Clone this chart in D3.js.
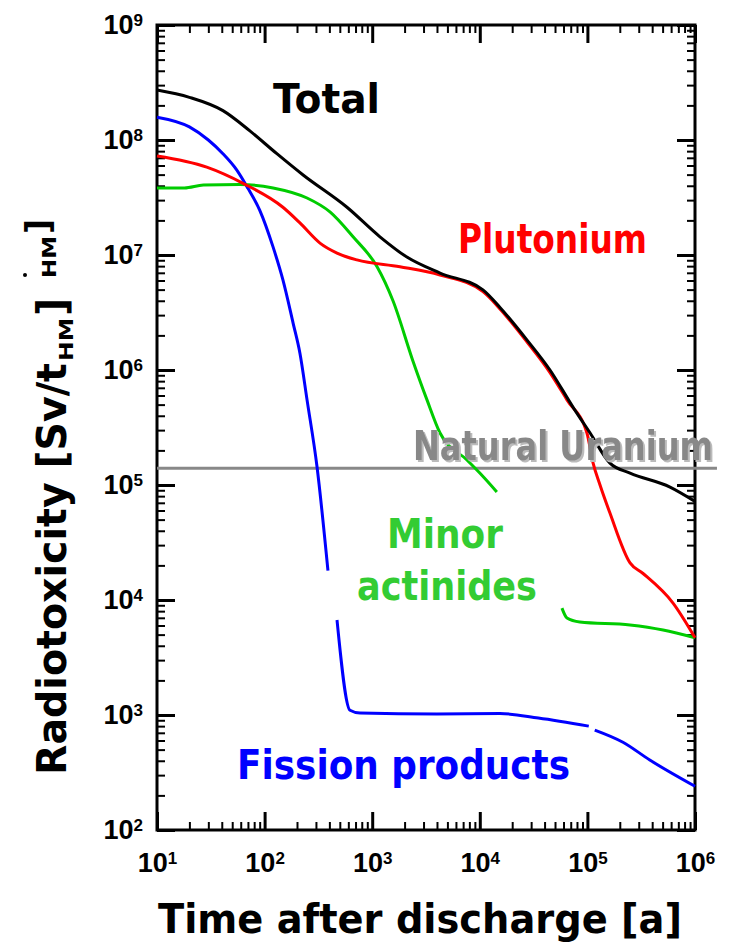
<!DOCTYPE html>
<html>
<head>
<meta charset="utf-8">
<script src="https://cdn.jsdelivr.net/npm/d3@7"></script>
<style>
body { margin: 0; background: #fff; }
svg text { font-family: "DejaVu Sans", sans-serif; font-weight: bold; }
.tick text { font-family: "Liberation Sans", Arial, sans-serif; font-size: 27px; fill: #000; }
</style>
</head>
<body>
<div id="chart"></div>
<script>
// radiotoxicity of spent fuel [Sv/tHM] vs time after discharge [a]
// null marks a break in a curve
var totalYears = [10, 20, 41, 73, 130, 228, 583, 1180, 2100, 4270, 10700, 15400, 27500, 44900, 73400, 106000, 162000, 249000, 586000, 1000000]
var totalTox = [2.72e8, 2.35e8, 1.8e8, 1.2e8, 7.6e7, 4.96e7, 2.6e7, 1.44e7, 9.6e6, 6.97e6, 4.97e6, 3.5e6, 1.82e6, 1.0e6, 4.76e5, 2.83e5, 1.55e5, 1.27e5, 9.6e4, 7.2e4]

var plutoniumYears = [10, 29, 63, 148, 213, 327, 471, 722, 1810, 4270, 10700, 15400, 27500, 44900, 64600, 99000, 113000, 131000, 162000, 249000, 329000, 625000, 1000000]
var plutoniumTox = [7.26e7, 5.8e7, 4.2e7, 2.6e7, 1.9e7, 1.27e7, 1.04e7, 9.06e6, 7.9e6, 6.7e6, 4.8e6, 3.4e6, 1.75e6, 9.5e5, 5.5e5, 2.83e5, 1.55e5, 1.0e5, 5.7e4, 2.1e4, 1.7e4, 9.4e3, 4.7e3]

var actinideYears = [10, 18, 27, 59, 120, 248, 405, 664, 1110, 1560, 2390, 3230, 4270, 7600, 10000, 14400, 30000, 58000, 64600, 85000, 249000, 505000, 1000000]
var actinideTox = [3.83e7, 3.83e7, 4.06e7, 4.1e7, 3.83e7, 3.13e7, 2.37e7, 1.44e7, 7.9e6, 4.0e6, 1.2e6, 5.5e5, 2.83e5, 1.65e5, 1.27e5, 8.7e4, null, 8.5e3, 6.97e3, 6.44e3, 6.07e3, 5.49e3, 4.7e3]

var fissionYears = [10, 20, 30, 41, 55, 70, 90, 120, 148, 184, 213, 248, 307, 388, 430, 471, 622, 771, 4000, 15400, 35000, 103000, 110000, 117000, 214000, 380000, 1000000]
var fissionTox = [1.58e8, 1.3e8, 1.0e8, 7.6e7, 5.5e7, 3.8e7, 2.46e7, 1.17e7, 6.07e6, 2.56e6, 1.4e6, 5.5e5, 1.44e5, 1.8e4, null, 6.7e3, 1.1e3, 1.04e3, 1.02e3, 1.03e3, 9.4e2, 8.0e2, null, 7.4e2, 5.8e2, 4.06e2, 2.4e2]

var naturalUranium = 1.4e5
var naturalUraniumSpan = [10, 1.6e6]

var xDecades = [1e1, 1e2, 1e3, 1e4, 1e5, 1e6]
var yDecades = [1e2, 1e3, 1e4, 1e5, 1e6, 1e7, 1e8, 1e9]

var width = 730,
    height = 951,
    plot = {left: 157, right: 695, top: 25, bottom: 830}

var colors = {
    total: '#000000',
    plutonium: '#ff0000',
    actinides: '#00cc00',
    fission: '#0000ff',
    uranium: '#888888',
    actinidesText: '#33cc33'
}

var x = d3.scaleLog().domain([1e1, 1e6]).range([plot.left, plot.right])
var y = d3.scaleLog().domain([1e2, 1e9]).range([plot.bottom, plot.top])

function minorTicks(decades) {
    var out = []
    decades.slice(0, -1).forEach(function(d) {
        for (var k = 2; k <= 9; k++) out.push(d * k)
    })
    return out
}

var svg = d3.select('#chart').append('svg')
    .attr('width', width)
    .attr('height', height)

var defs = svg.append('defs')
var shadow = defs.append('filter').attr('id', 'shadow')
    .attr('x', '-5%').attr('y', '-20%').attr('width', '110%').attr('height', '140%')
shadow.append('feDropShadow')
    .attr('dx', 2).attr('dy', 2).attr('stdDeviation', 0.6)
    .attr('flood-color', '#bbbbbb').attr('flood-opacity', 1)

// axes: major and minor ticks pointing inward on all four sides
function drawAxis(axisFn, scale, decades, transform, labels) {
    var major = svg.append('g').attr('transform', transform)
        .call(axisFn(scale).tickValues(decades).tickSize(-18).tickSizeOuter(0)
            .tickPadding(labels ? (axisFn === d3.axisLeft ? 14 : 23) : 0)
            .tickFormat(function() { return '' }))
    major.select('.domain').remove()
    major.selectAll('.tick line').attr('stroke-width', 3)
    if (labels) {
        major.selectAll('.tick text').each(function(d) {
            var t = d3.select(this)
            t.append('tspan').text('10')
            t.append('tspan').attr('dy', '-0.5em').style('font-size', '17px')
                .text(Math.round(Math.log10(d)))
        })
    } else {
        major.selectAll('.tick text').remove()
    }
    var minor = svg.append('g').attr('transform', transform)
        .call(axisFn(scale).tickValues(minorTicks(decades)).tickSize(-8).tickSizeOuter(0)
            .tickFormat(function() { return '' }))
    minor.select('.domain').remove()
    minor.selectAll('.tick text').remove()
    minor.selectAll('.tick line').attr('stroke-width', 2)
}

drawAxis(d3.axisBottom, x, xDecades, 'translate(0,' + plot.bottom + ')', true)
drawAxis(d3.axisTop, x, xDecades, 'translate(0,' + plot.top + ')', false)
drawAxis(d3.axisLeft, y, yDecades, 'translate(' + plot.left + ',0)', true)
drawAxis(d3.axisRight, y, yDecades, 'translate(' + plot.right + ',0)', false)

svg.append('rect')
    .attr('x', plot.left).attr('y', plot.top)
    .attr('width', plot.right - plot.left).attr('height', plot.bottom - plot.top)
    .attr('fill', 'none').attr('stroke', '#000').attr('stroke-width', 3)

// natural uranium reference
svg.append('line')
    .attr('x1', x(naturalUraniumSpan[0])).attr('x2', x(naturalUraniumSpan[1]))
    .attr('y1', y(naturalUranium)).attr('y2', y(naturalUranium))
    .attr('stroke', colors.uranium).attr('stroke-width', 3)

var line = d3.line()
    .defined(function(d) { return d[1] != null })
    .x(function(d) { return x(d[0]) })
    .y(function(d) { return y(d[1]) })
    .curve(d3.curveMonotoneX)

var series = [
    {years: fissionYears, tox: fissionTox, color: colors.fission},
    {years: actinideYears, tox: actinideTox, color: colors.actinides},
    {years: plutoniumYears, tox: plutoniumTox, color: colors.plutonium},
    {years: totalYears, tox: totalTox, color: colors.total}
]

svg.selectAll('path.series')
    .data(series)
    .enter().append('path')
    .attr('class', 'series')
    .attr('d', function(s) { return line(s.years.map(function(t, i) { return [t, s.tox[i]] })) })
    .attr('fill', 'none')
    .attr('stroke', function(s) { return s.color })
    .attr('stroke-width', 3)
    .attr('stroke-linejoin', 'round')

// labels
function label(txt, px, py, len, color, size) {
    return svg.append('text')
        .attr('x', px).attr('y', py)
        .attr('textLength', len).attr('lengthAdjust', 'spacingAndGlyphs')
        .attr('fill', color)
        .style('font-size', (size || 40) + 'px')
        .text(txt)
}

label('Total', 273, 113, 107, colors.total)
label('Plutonium', 458, 253, 189, colors.plutonium)
label('Natural Uranium', 413, 460, 300, colors.uranium).attr('filter', 'url(#shadow)')
label('Minor', 387, 548, 116, colors.actinidesText)
label('actinides', 357, 600, 180, colors.actinidesText)
label('Fission products', 237, 779, 333, colors.fission)

// axis titles
label('Time after discharge [a]', 158, 933, 524, '#000')

svg.append('text')
    .attr('transform', 'translate(66,775) rotate(-90)')
    .attr('textLength', 412).attr('lengthAdjust', 'spacingAndGlyphs')
    .style('font-size', '40px')
    .text('Radiotoxicity [Sv/t')
svg.append('text')
    .attr('transform', 'translate(73,361) rotate(-90)')
    .attr('textLength', 43).attr('lengthAdjust', 'spacingAndGlyphs')
    .style('font-size', '20px')
    .text('HM')
svg.append('text')
    .attr('transform', 'translate(66,316) rotate(-90)')
    .style('font-size', '40px')
    .text(']')
// stray glyphs at the top of the original y title
svg.append('text')
    .attr('transform', 'translate(56,278) rotate(-90)')
    .attr('textLength', 42).attr('lengthAdjust', 'spacingAndGlyphs')
    .style('font-size', '19px')
    .text('HM')
svg.append('text')
    .attr('transform', 'translate(50,234) rotate(-90)')
    .style('font-size', '33px')
    .text(']')
svg.append('circle')
    .attr('cx', 25).attr('cy', 275).attr('r', 2)
    .attr('fill', '#000')
</script>
</body>
</html>
